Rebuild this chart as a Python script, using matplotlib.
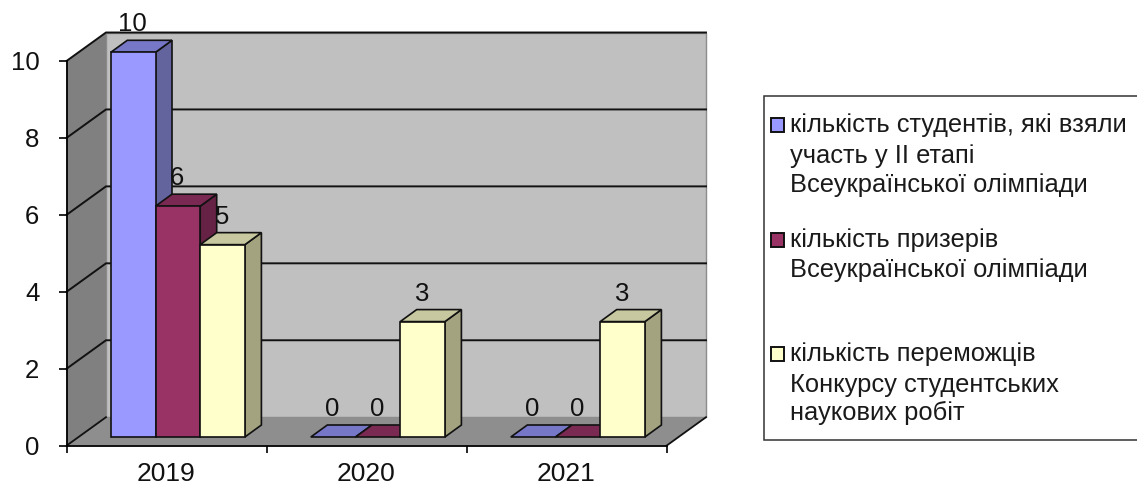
import numpy as np
import matplotlib
matplotlib.use('Agg')
import matplotlib.pyplot as plt
from matplotlib.patches import Polygon, Rectangle

plt.rcParams['font.family'] = ['Liberation Sans', 'DejaVu Sans']

years = ['2019', '2020', '2021']
students = [10, 0, 0]
prizewinners = [6, 0, 0]
winners = [5, 3, 3]
y_ticks = [0, 2, 4, 6, 8, 10]

series = [students, prizewinners, winners]
front_cols = ['#9999FF', '#993366', '#FFFFCC']
side_cols = ['#63639E', '#652244', '#A3A37F']
top_cols = ['#7777C7', '#7A2952', '#C8C8A0']

# legend text, one list of lines per series
legend_lines = [
    ['кількість студентів, які взяли', 'участь у ІІ етапі', 'Всеукраїнської олімпіади'],
    ['кількість призерів', 'Всеукраїнської олімпіади'],
    ['кількість переможців', 'Конкурсу студентських', 'наукових робіт'],
]

W, H = 1137, 488
fig = plt.figure(figsize=(W/100, H/100), dpi=100, facecolor='white')

# front plane of the chart, pixel box
left, right, y0_px, y10_px = 66.5, 666.5, 445.7, 61.0
ax = fig.add_axes([left/W, 1-y0_px/H, (right-left)/W, (y0_px-y10_px)/H])
ax.set_xlim(0, 3)
ax.set_ylim(0, 10)
ax.patch.set_visible(False)
for s in ['top', 'right']:
    ax.spines[s].set_visible(False)
for s in ['left', 'bottom']:
    ax.spines[s].set_linewidth(1.3)
ax.set_axisbelow(True)

px_x = 3/(right-left)
px_y = 10/(y0_px-y10_px)

# depth of walls and bars
wall_dx, wall_dy = 39.5*px_x, 28.5*px_y
bar_dx, bar_dy = 16.5*px_x, 12*px_y
lift = 8.7*px_y
gap = 44.3*px_x
bar_w = 44.7*px_x

# walls and floor
ax.add_patch(Polygon([(wall_dx, wall_dy), (3+wall_dx, wall_dy), (3+wall_dx, 10+wall_dy), (wall_dx, 10+wall_dy)],
                     fc='#C0C0C0', ec='#8C8C8C', lw=1, clip_on=False, zorder=1))
ax.add_patch(Polygon([(0, 0), (wall_dx, wall_dy), (wall_dx, 10+wall_dy), (0, 10)],
                     fc='#808080', ec='none', clip_on=False, zorder=1.1))
ax.add_patch(Polygon([(0, 0), (3, 0), (3+wall_dx, wall_dy), (wall_dx, wall_dy)],
                     fc='#8E8E8E', ec='none', clip_on=False, zorder=1.1))

# gridlines go along the side wall and then the back wall
for t in y_ticks[1:]:
    ax.plot([0, wall_dx, 3+wall_dx], [t, t+wall_dy, t+wall_dy], color='#111111', lw=1.4,
            clip_on=False, zorder=1.5, solid_joinstyle='miter')
ax.plot([0, wall_dx], [0, wall_dy], color='#111111', lw=1.3, clip_on=False, zorder=1.5)
ax.plot([3, 3+wall_dx], [0, wall_dy], color='#111111', lw=1.3, clip_on=False, zorder=1.5)

# bars, drawn left to right so each one covers the side of the one before
for g in range(len(years)):
    for i, vals in enumerate(series):
        v = vals[g]
        x0 = g + gap + i*bar_w
        x1 = x0 + bar_w
        yb = lift
        yt = lift + v
        z = 3 + g + i*0.1
        ax.text((x0+x1)/2 - 0.5*px_x, yt + bar_dy + 9*px_y, str(v), ha='center', va='baseline',
                fontsize=18.5, color='#111111', zorder=20)
        if v > 0:
            ax.add_patch(Polygon([(x1, yb), (x1+bar_dx, yb+bar_dy), (x1+bar_dx, yt+bar_dy), (x1, yt)],
                                 fc=side_cols[i], ec='#111111', lw=1.2, clip_on=False, zorder=z))
        ax.add_patch(Polygon([(x0, yt), (x1, yt), (x1+bar_dx, yt+bar_dy), (x0+bar_dx, yt+bar_dy)],
                             fc=top_cols[i], ec='#111111', lw=1.2, clip_on=False, zorder=z))
        if v > 0:
            ax.bar(x0, v, bar_w, bottom=lift, align='edge', color=front_cols[i], edgecolor='#111111',
                   linewidth=1.2, clip_on=False, zorder=z+0.01)

ax.set_yticks(y_ticks)
ax.tick_params(axis='y', length=6, width=1.2, pad=13.5, labelsize=18.5, labelcolor='#111111')
ax.set_xticks([0, 1, 2, 3])
ax.set_xticklabels([])
ax.set_xticks([0.5, 1.5, 2.5], minor=True)
ax.set_xticklabels(years, minor=True, fontsize=19, color='#111111')
ax.tick_params(axis='x', which='major', length=5, width=1.2)
ax.tick_params(axis='x', which='minor', length=0, pad=12)

# legend in pixel coordinates
lg = fig.add_axes([0, 0, 1, 1])
lg.set_xlim(0, W)
lg.set_ylim(H, 0)
lg.axis('off')
lg.patch.set_visible(False)
lg.add_patch(Rectangle((763.5, 96), 380, 344, fc='white', ec='#333333', lw=1.1))

key_tops = [118, 233, 347]
baselines = [[132, 163, 192], [247, 277], [361, 392, 420]]
for i, lines in enumerate(legend_lines):
    lg.add_patch(Rectangle((771, key_tops[i]), 13, 13.5, fc=front_cols[i], ec='#111111', lw=1.4))
    for line, b in zip(lines, baselines[i]):
        lg.text(790, b, line, fontsize=18.4, color='#1A1A1A', ha='left', va='baseline')

plt.savefig('out.png', dpi=100)
